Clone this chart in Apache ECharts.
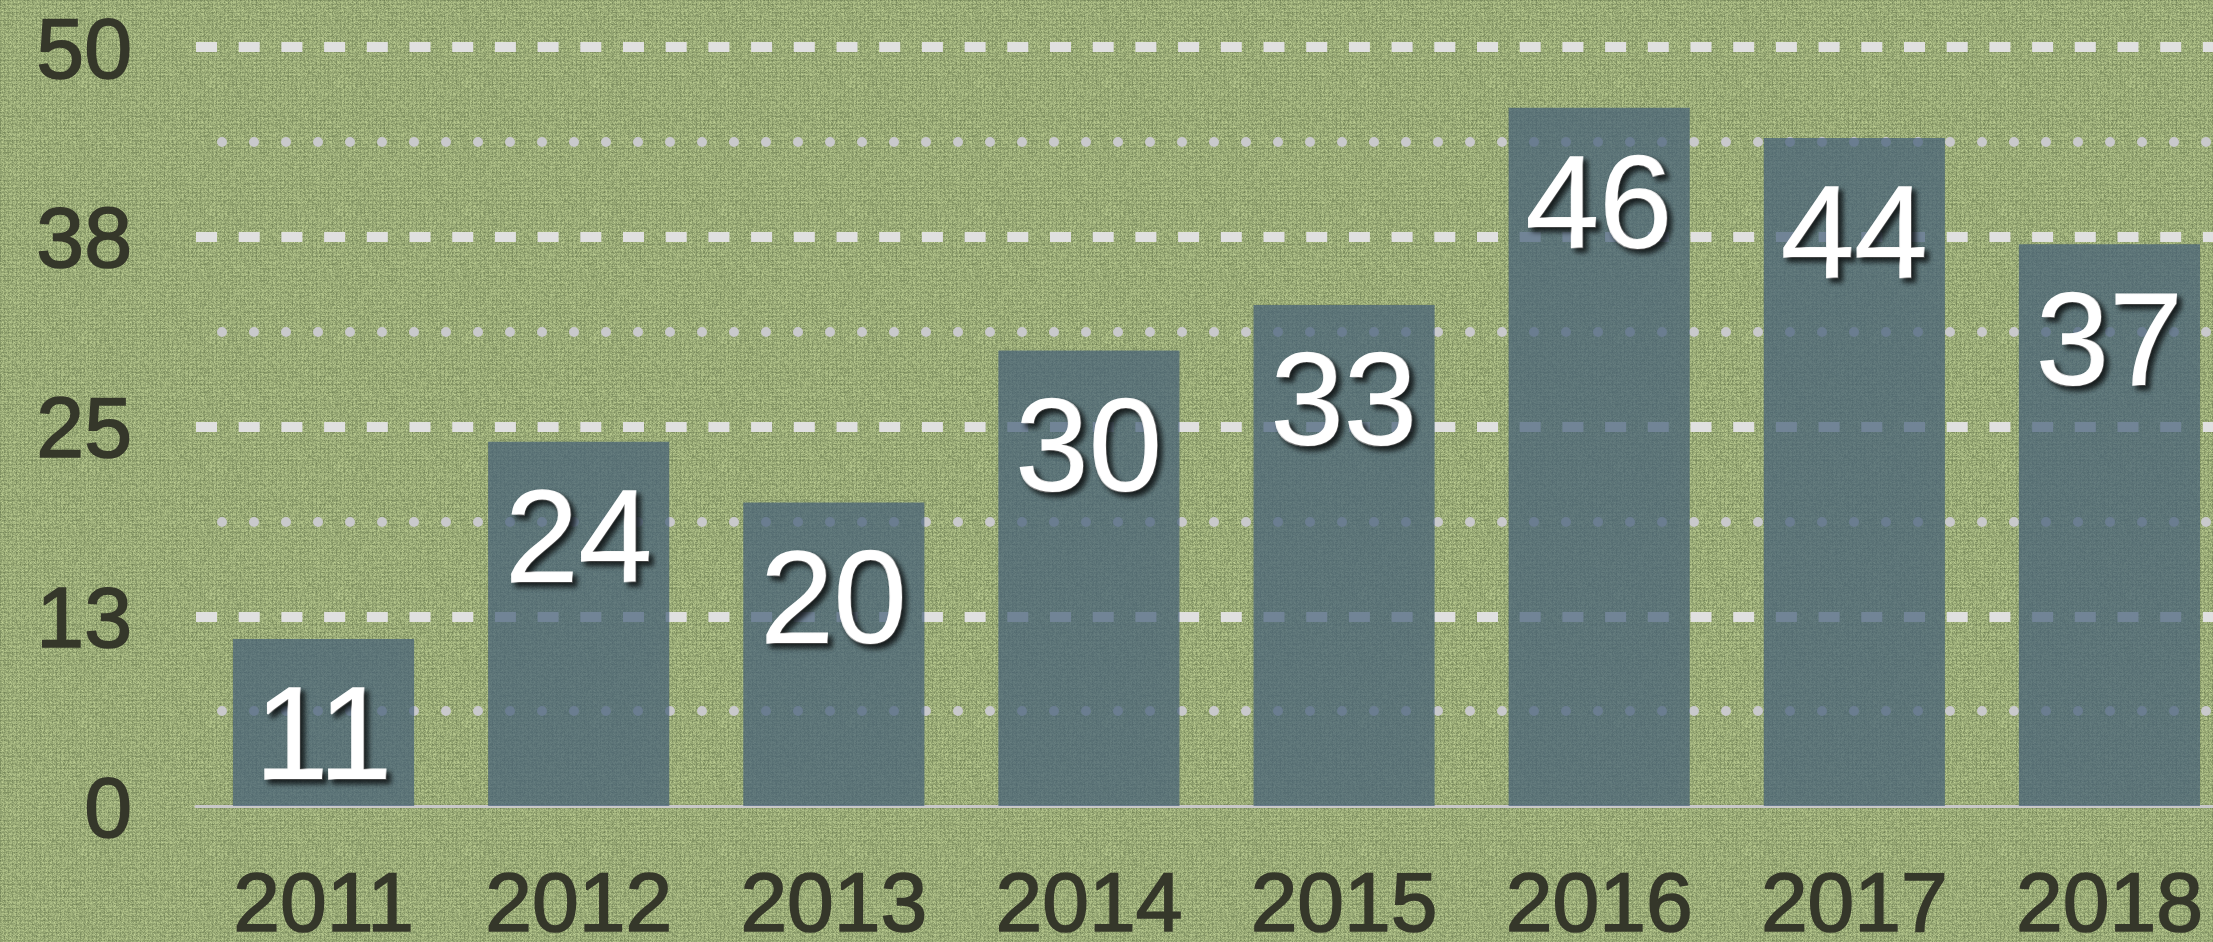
<!DOCTYPE html>
<html>
<head>
<meta charset="utf-8">
<script src="https://cdn.jsdelivr.net/npm/echarts@6/dist/echarts.min.js"></script>
<style>
  html, body { margin: 0; padding: 0; }
  #chart { width: 2213px; height: 942px; }
</style>
</head>
<body>
<div id="chart"></div>
<script>
(function () {
  'use strict';

  const years = ['2011', '2012', '2013', '2014', '2015', '2016', '2017', '2018'];
  const counts = [11, 24, 20, 30, 33, 46, 44, 37];
  const yMax = 50;
  const yStep = 12.5;

  // linen-like backdrop, deterministic hash noise
  function linenPattern() {
    const size = 128;
    const canvas = document.createElement('canvas');
    canvas.width = size;
    canvas.height = size;
    const ctx = canvas.getContext('2d');
    const img = ctx.createImageData(size, size);
    const hash = (x, y) => {
      const s = Math.sin(x * 12.9898 + y * 78.233) * 43758.5453;
      return s - Math.floor(s);
    };
    for (let y = 0; y < size; y++) {
      for (let x = 0; x < size; x++) {
        let v = (hash(x, y) - 0.5) * 44;
        if (x % 4 === 0) v -= 12;
        if (y % 4 === 0) v -= 12;
        if (x % 4 === 2 && y % 4 === 2) v += 16;
        const i = (y * size + x) * 4;
        img.data[i] = 158 + v;
        img.data[i + 1] = 175 + v;
        img.data[i + 2] = 122 + v * 0.8;
        img.data[i + 3] = 255;
      }
    }
    ctx.putImageData(img, 0, 0);
    return canvas;
  }

  const chart = echarts.init(document.getElementById('chart'), null, { renderer: 'canvas' });
  const font = '"Liberation Sans", Arial, Helvetica, sans-serif';
  const ink = '#35372a';

  chart.setOption({
    animation: false,
    backgroundColor: { image: linenPattern(), repeat: 'repeat' },
    grid: { left: 196, right: -24, top: 47, bottom: 136, outerBoundsMode: 'none' },
    xAxis: {
      type: 'category',
      data: years,
      axisLine: { lineStyle: { color: '#c8c8c8', width: 3 } },
      axisTick: { show: false },
      axisLabel: {
        color: ink, fontSize: 84, fontFamily: font, margin: 60,
        textBorderColor: ink, textBorderWidth: 1.6
      },
      splitLine: { show: false }
    },
    yAxis: {
      type: 'value',
      min: 0,
      max: yMax,
      interval: yStep,
      axisLine: { show: false },
      axisTick: { show: false },
      minorTick: { show: false, splitNumber: 2 },
      axisLabel: {
        color: ink,
        fontSize: 86,
        fontFamily: font,
        margin: 64,
        verticalAlign: 'top',
        lineHeight: 14,
        textBorderColor: ink,
        textBorderWidth: 1.6,
        formatter: (v) => String(Math.round(v))
      },
      splitLine: {
        show: true,
        showMinLine: false,
        lineStyle: { color: '#e0e0e0', width: 10, type: [21, 21.7] }
      },
      minorSplitLine: {
        show: true,
        lineStyle: { color: '#c9c9cc', width: 10, type: [0, 32], cap: 'round', dashOffset: 6 }
      }
    },
    series: [{
      type: 'bar',
      data: counts,
      barCategoryGap: '29%',
      itemStyle: { color: 'rgba(69,96,121,0.72)' },
      label: {
        show: true,
        position: 'insideTop',
        distance: 38,
        color: '#ffffff',
        fontSize: 132,
        fontFamily: font,
        textBorderColor: '#ffffff',
        textBorderWidth: 1.5,
        textShadowColor: 'rgba(0,0,0,0.75)',
        textShadowBlur: 5,
        textShadowOffsetX: 4,
        textShadowOffsetY: 4
      }
    }]
  });
})();
</script>
</body>
</html>
